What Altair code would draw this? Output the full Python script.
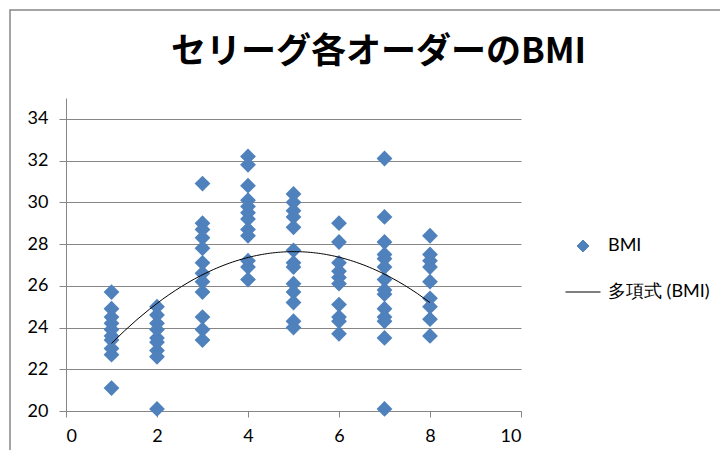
import altair as alt
import pandas as pd

orders = [1, 2, 3, 4, 5, 6, 7, 8]
bmi_1 = [25.7, 24.9, 24.5, 24.2, 23.9, 23.6, 23.4, 23.0, 22.7, 21.1]
bmi_2 = [25.0, 24.6, 24.2, 23.9, 23.5, 23.3, 22.9, 22.6, 20.1]
bmi_3 = [30.9, 29.0, 28.7, 28.3, 27.8, 27.1, 26.6, 26.2, 25.7, 24.5, 23.9, 23.4]
bmi_4 = [32.2, 31.8, 30.8, 30.1, 29.8, 29.5, 29.2, 28.7, 28.4, 27.2, 26.9, 26.3]
bmi_5 = [30.4, 30.0, 29.6, 29.3, 28.8, 27.7, 27.1, 26.9, 26.1, 25.7, 25.2, 24.3, 24.0]
bmi_6 = [29.0, 28.1, 27.1, 26.7, 26.4, 26.1, 25.1, 24.5, 24.3, 23.7]
bmi_7 = [32.1, 29.3, 28.1, 27.5, 27.3, 26.9, 26.3, 25.8, 25.6, 24.9, 24.5, 24.3, 23.5, 20.1]
bmi_8 = [28.4, 27.5, 27.2, 26.9, 26.2, 25.4, 25.0, 24.4, 23.6]

x_ticks = [0, 2, 4, 6, 8, 10]
y_ticks = [20, 22, 24, 26, 28, 30, 32, 34]
series_names = ["BMI", "多項式 (BMI)"]
title_text = "セリーグ各オーダーのBMI"

rows = []
for o, vals in zip(orders, [bmi_1, bmi_2, bmi_3, bmi_4, bmi_5, bmi_6, bmi_7, bmi_8]):
    for v in vals:
        rows.append({"order": o, "BMI": v})
df = pd.DataFrame(rows)

W, H = 455, 313
GRAY = "#868686"
BLUE = "#4F81BD"
FONT = "Lato"

x_enc = alt.X("order:Q",
              scale=alt.Scale(domain=[0, 10], nice=False, zero=False),
              axis=alt.Axis(values=x_ticks, title=None, grid=False, labelFontSize=18,
                            labelPadding=10, tickSize=6, labelFont=FONT))
y_enc = alt.Y("BMI:Q",
              scale=alt.Scale(domain=[20, 35], nice=False, zero=False),
              axis=alt.Axis(values=y_ticks, title=None, grid=True, labelFontSize=18,
                            labelPadding=11, tickSize=7, labelFont=FONT))

# legend symbols: small diamond and a long stroke (paths in the -1..1 unit box)
diamond_path = "M-0.34,0L0,-0.34L0.34,0L0,0.34Z"
stroke_path = "M-1,0L1,0"

points = alt.Chart(df).mark_point(shape="diamond", filled=True, size=250, opacity=1,
                                  color=BLUE).encode(x=x_enc, y=y_enc)
trend = alt.Chart(df).transform_regression(
    "order", "BMI", method="poly", order=2, extent=[1, 8]
).mark_line(strokeWidth=1, color="#000000").encode(x=x_enc, y=y_enc)

legend_df = pd.DataFrame({"series": series_names})
legend_layer = alt.Chart(legend_df).mark_point(filled=True, opacity=0, size=1225).encode(
    x=alt.value(0), y=alt.value(0),
    color=alt.Color("series:N", scale=alt.Scale(domain=series_names, range=[BLUE, BLUE]),
                    legend=alt.Legend(title=None, orient="none", legendX=499, legendY=130,
                                      labelFontSize=18, labelFont=FONT, labelColor="#000000",
                                      symbolSize=1225, rowPadding=19, labelOffset=7, padding=0,
                                      labelLimit=300,
                                      symbolStrokeWidth=1, symbolOpacity=1)),
    stroke=alt.Stroke("series:N", scale=alt.Scale(domain=series_names, range=[BLUE, "#000000"]),
                      legend=None),
    shape=alt.Shape("series:N", scale=alt.Scale(domain=series_names,
                                                range=[diamond_path, stroke_path]),
                    legend=None),
)

border = alt.Chart(pd.DataFrame({"a": [0]})).mark_rect(
    fill="transparent", stroke=GRAY, strokeWidth=1.5
).encode(x=alt.value(-56), x2=alt.value(720), y=alt.value(-88), y2=alt.value(500))

chart = alt.layer(border, points, trend, legend_layer).properties(
    width=W, height=H,
    title=alt.TitleParams(title_text, font="Noto Sans CJK JP", fontSize=35, fontWeight="bold",
                          anchor="middle", dx=85, dy=61, offset=0, color="#000000"),
    autosize=alt.AutoSizeParams(type="none"),
    padding={"left": 58, "top": 90, "right": 199, "bottom": 39},
).configure_view(strokeWidth=0).configure_axis(
    domainColor=GRAY, tickColor=GRAY, gridColor=GRAY, labelColor="#000000",
    domainWidth=1, gridWidth=1,
)

chart.save("out.html", embed_options={"renderer": "svg", "actions": False})
